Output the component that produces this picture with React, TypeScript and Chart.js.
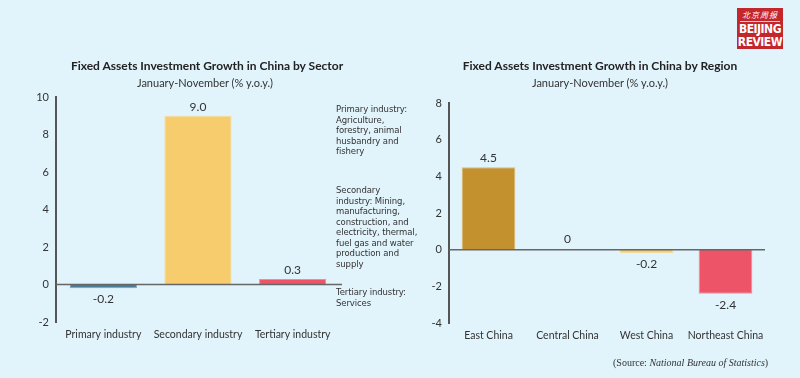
import React, { useEffect, useRef } from "react";
import { Chart, registerables } from "chart.js";

Chart.register(...registerables);

const sectorCategories = ["Primary industry", "Secondary industry", "Tertiary industry"];
const sectorValues = [-0.2, 9.0, 0.3];
const sectorColors = ["#4a7d9a", "#f6cc6c", "#ee5468"];
const sectorBorders = ["#7fa6bd", "#f9dc98", "#f48a98"];
const sectorTicks = [-2, 0, 2, 4, 6, 8, 10];

const regionCategories = ["East China", "Central China", "West China", "Northeast China"];
const regionValues = [4.5, 0, -0.2, -2.4];
const regionColors = ["#c3912e", "#f6cc6c", "#f6cc6c", "#ee5468"];
const regionBorders = ["#e3bb66", "#f9dc98", "#f9dc98", "#f48a98"];
const regionTicks = [-4, -2, 0, 2, 4, 6, 8];

const sectorNotes = [
  ["Primary industry:", "Agriculture,", "forestry, animal", "husbandry and", "fishery"],
  ["Secondary", "industry: Mining,", "manufacturing,", "construction, and", "electricity, thermal,", "fuel gas and water", "production and", "supply"],
  ["Tertiary industry:", "Services"],
];

const FONT = "Lato, 'Open Sans', sans-serif";
const TEXT = "#333333";
const W = 800;
const H = 378;

const valueLabels = {
  id: "valueLabels",
  afterDatasetsDraw(chart: any, _args: any, opts: any) {
    const ctx = chart.ctx;
    const { chartArea } = chart;
    const y0 = chart.scales.y.getPixelForValue(0);
    ctx.save();
    ctx.strokeStyle = "#666666";
    ctx.lineWidth = 1.5;
    ctx.beginPath();
    ctx.moveTo(chartArea.left, y0);
    ctx.lineTo(chartArea.right + (opts.extend || 0), y0);
    ctx.stroke();

    const meta = chart.getDatasetMeta(0);
    const data = chart.data.datasets[0].data as number[];
    ctx.font = "12px " + FONT;
    ctx.fillStyle = TEXT;
    ctx.textAlign = "center";
    ctx.textBaseline = "middle";
    meta.data.forEach((bar: any, i: number) => {
      const v = data[i];
      let y = bar.y;
      if (v > 0) y -= 9;
      else if (v === 0) y -= 11;
      else y += 11;
      ctx.fillText(v === 0 ? "0" : v.toFixed(1), bar.x, y);
    });
    ctx.restore();
  },
};

function makeConfig(
  labels: string[],
  values: number[],
  colors: string[],
  borders: string[],
  ticks: number[],
  pad: { left: number; right: number; top: number },
  axisWidth: number,
  bottom: number,
  barPct: number,
  extend: number
): any {
  return {
    type: "bar",
    data: {
      labels,
      datasets: [
        {
          data: values,
          backgroundColor: colors,
          borderColor: borders,
          borderWidth: 1,
          categoryPercentage: 1,
          barPercentage: barPct,
        },
      ],
    },
    options: {
      animation: false,
      responsive: false,
      maintainAspectRatio: false,
      layout: { padding: { left: pad.left, right: pad.right, top: pad.top, bottom: 0 } },
      plugins: {
        legend: { display: false },
        tooltip: { enabled: false },
        title: { display: false },
        valueLabels: { extend },
      },
      scales: {
        x: {
          grid: { display: false, drawTicks: false },
          border: { display: false },
          ticks: {
            color: TEXT,
            font: { family: FONT, size: 10.5 },
            padding: 6,
            maxRotation: 0,
            autoSkip: false,
          },
          afterFit: (s: any) => {
            s.height = H - bottom;
          },
        },
        y: {
          min: ticks[0],
          max: ticks[ticks.length - 1],
          afterBuildTicks: (s: any) => {
            s.ticks = ticks.map((v) => ({ value: v }));
          },
          grid: { display: false, drawTicks: false },
          border: { display: true, color: "#555555", width: 2 },
          ticks: {
            color: TEXT,
            font: { family: FONT, size: 11 },
            padding: 7,
          },
          afterFit: (s: any) => {
            s.width = axisWidth;
          },
        },
      },
    },
    plugins: [valueLabels],
  };
}

function ChartCanvas({ config }: { config: any }) {
  const ref = useRef<HTMLCanvasElement | null>(null);
  useEffect(() => {
    if (!ref.current) return;
    const chart = new Chart(ref.current, config);
    return () => chart.destroy();
  }, []);
  return (
    <canvas
      ref={ref}
      width={W}
      height={H}
      style={{ position: "absolute", left: 0, top: 0, width: W, height: H }}
    />
  );
}

const abs = (o: any): React.CSSProperties => ({ position: "absolute", whiteSpace: "nowrap", ...o });

export default function App() {
  useEffect(() => {
    document.body.style.margin = "0";
  }, []);

  const leftCfg = makeConfig(
    sectorCategories,
    sectorValues,
    sectorColors,
    sectorBorders,
    sectorTicks,
    { left: 0, right: W - 340, top: 97 },
    56,
    322,
    0.71,
    2
  );
  const rightCfg = makeConfig(
    regionCategories,
    regionValues,
    regionColors,
    regionBorders,
    regionTicks,
    { left: 400, right: W - 765, top: 103 },
    49,
    323,
    0.68,
    0
  );

  const noteTops = [104, 185, 287];

  return (
    <div
      style={{
        position: "fixed",
        left: 0,
        top: 0,
        width: W,
        height: H,
        background: "#e1f3fb",
        fontFamily: FONT,
        color: TEXT,
        overflow: "hidden",
      }}
    >
      <ChartCanvas config={leftCfg} />
      <ChartCanvas config={rightCfg} />

      <div style={abs({ left: 207, top: 58, transform: "translateX(-50%)", fontSize: 12, fontWeight: 700, color: "#222" })}>
        Fixed Assets Investment Growth in China by Sector
      </div>
      <div style={abs({ left: 205, top: 76, transform: "translateX(-50%)", fontSize: 11 })}>
        January-November (% y.o.y.)
      </div>
      <div style={abs({ left: 600, top: 58, transform: "translateX(-50%)", fontSize: 12, fontWeight: 700, color: "#222" })}>
        Fixed Assets Investment Growth in China by Region
      </div>
      <div style={abs({ left: 600, top: 76, transform: "translateX(-50%)", fontSize: 11 })}>
        January-November (% y.o.y.)
      </div>

      {sectorNotes.map((lines, i) => (
        <div
          key={i}
          style={abs({
            left: 336,
            top: noteTops[i],
            fontSize: 8.5,
            lineHeight: "10.5px",
            fontFamily: "'DejaVu Sans', sans-serif",
            letterSpacing: -0.1,
          })}
        >
          {lines.map((l, j) => (
            <div key={j}>{l}</div>
          ))}
        </div>
      ))}

      <div
        style={abs({
          left: 613,
          top: 357,
          fontSize: 10,
          fontFamily: "'Liberation Serif', 'Times New Roman', serif",
          color: "#333",
        })}
      >
        (Source: <i>National Bureau of Statistics</i>)
      </div>

      <div
        style={abs({
          left: 737,
          top: 8,
          width: 46,
          height: 41,
          background: "#c4262e",
          color: "#fff",
          textAlign: "center",
          fontFamily: "'DejaVu Sans Condensed', 'Liberation Sans Narrow', sans-serif",
        })}
      >
        <div style={abs({ left: 0, top: 2, width: 46, fontSize: 8, lineHeight: "10px", fontFamily: "'Noto Sans CJK SC', sans-serif", fontStyle: "italic", letterSpacing: 1 })}>
          北京周报
        </div>
        <div style={abs({ left: 3, top: 13, width: 40, height: 1, background: "#f3c9cb" })} />
        <div style={abs({ left: 0, top: 14, width: 46, fontSize: 12, lineHeight: "14px", fontWeight: 700, letterSpacing: -0.5 })}>
          BEIJING
        </div>
        <div style={abs({ left: 0, top: 27, width: 46, fontSize: 12, lineHeight: "14px", fontWeight: 700, letterSpacing: -0.5 })}>
          REVIEW
        </div>
      </div>
    </div>
  );
}
